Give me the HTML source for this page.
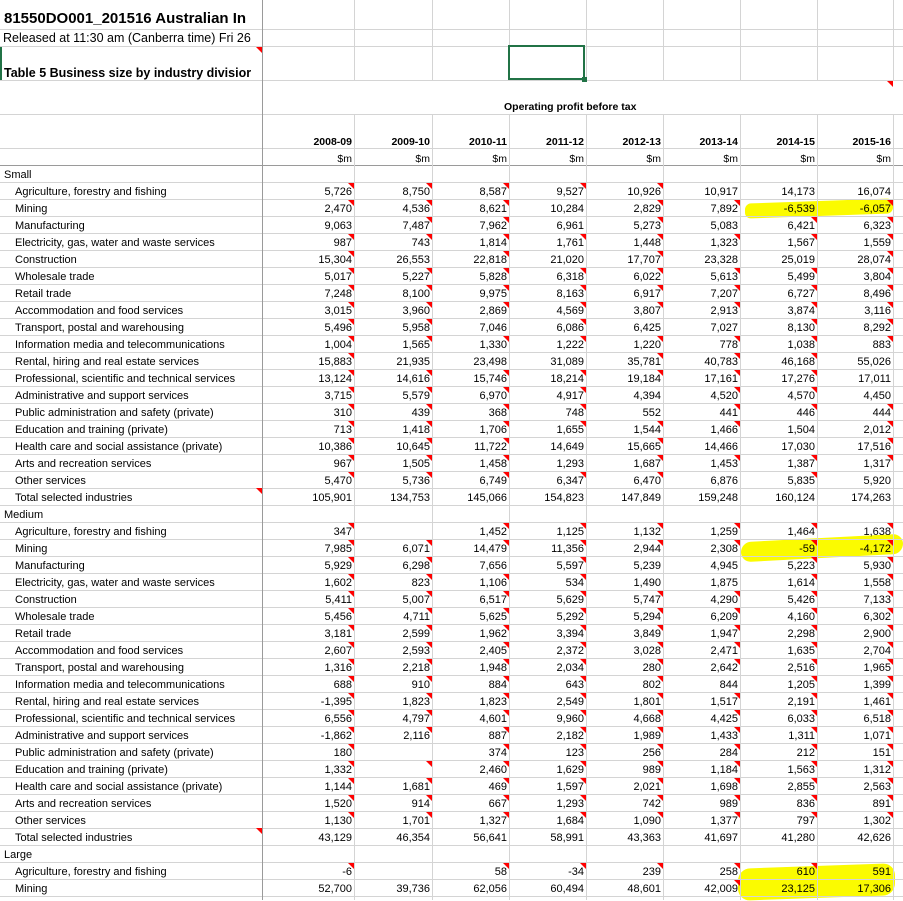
<!DOCTYPE html>
<html><head><meta charset="utf-8">
<style>
body{margin:0;width:903px;height:900px;overflow:hidden;background:#fff;font-family:"Liberation Sans",Arial,sans-serif;position:relative}
.v{position:absolute;width:1px;background:#d4d4d4}
.h{position:absolute;height:1px;background:#d4d4d4}
.t{position:absolute;font-size:11px;color:#000;white-space:nowrap;line-height:17px}
.r{text-align:right}
.tri{position:absolute;width:0;height:0;border-top:6px solid #f00;border-left:6px solid transparent}
.y{position:absolute;background:#fbfb00}
</style></head><body>
<div id="g"></div>
<script>
const g=document.getElementById('g');
function add(html){g.insertAdjacentHTML('beforeend',html);}
const colR=[354,432,509,586,663,740,817,893];
add('<div class="y" style="left:745px;top:201px;width:148px;height:15px;border-radius:6px;transform:skewY(-2deg)"></div>');
add('<div class="y" style="left:741px;top:538px;width:162px;height:20px;border-radius:10px;transform:skewY(-3deg)"></div>');
add('<div class="y" style="left:738px;top:866px;width:157px;height:32px;border-radius:12px;transform:skewY(-2deg)"></div>');
const hl=[29,46,80,114,148];
hl.forEach(y=>add(`<div class="h" style="left:0;top:${y}px;width:903px"></div>`));
for(let k=1;k<=43;k++){let y=165+17*k;add(`<div class="h" style="left:0;top:${y}px;width:903px"></div>`);}
add('<div class="h" style="left:0;top:165px;width:903px;background:#9a9a9a"></div>');
colR.forEach(x=>{add(`<div class="v" style="left:${x}px;top:0;height:80px"></div>`);add(`<div class="v" style="left:${x}px;top:114px;height:786px"></div>`);});
add('<div class="v" style="left:262px;top:0;height:900px;background:#9a9a9a"></div>');
add('<div class="t" style="left:4px;top:8px;font-size:15px;font-weight:bold;line-height:22px">81550DO001_201516 Australian In</div>');
add('<div class="t" style="left:3px;top:30px;font-size:12.5px;line-height:17px">Released at 11:30 am (Canberra time) Fri 26</div>');
add('<div class="t" style="left:4px;top:65px;font-size:12.5px;font-weight:bold;line-height:17px">Table 5 Business size by industry divisior</div>');
add('<div style="position:absolute;left:0;top:47px;width:2px;height:33px;background:#217346"></div>');
add('<div style="position:absolute;left:508px;top:45px;width:77px;height:35px;border:2px solid #217346;box-sizing:border-box;background:#fff"></div>');
add('<div style="position:absolute;left:582px;top:77px;width:5px;height:5px;background:#217346"></div>');
add('<div class="tri" style="left:256px;top:47px"></div>');
add('<div class="tri" style="left:887px;top:81px"></div>');
add('<div class="t" style="left:504px;top:99px;font-weight:bold;font-size:10.5px">Operating profit before tax</div>');
const yrs=['2008-09','2009-10','2010-11','2011-12','2012-13','2013-14','2014-15','2015-16'];
yrs.forEach((y,i)=>{add(`<div class="t r" style="left:${colR[i]-80}px;width:78px;top:134px;font-weight:bold;font-size:10.5px">${y}</div>`);add(`<div class="t r" style="left:${colR[i]-80}px;width:78px;top:151px;font-size:10.5px">$m</div>`);});
const names=['Agriculture, forestry and fishing','Mining','Manufacturing','Electricity, gas, water and waste services','Construction','Wholesale trade','Retail trade','Accommodation and food services','Transport, postal and warehousing','Information media and telecommunications','Rental, hiring and real estate services','Professional, scientific and technical services','Administrative and support services','Public administration and safety (private)','Education and training (private)','Health care and social assistance (private)','Arts and recreation services','Other services','Total selected industries'];
const small=`5,726* 8,750* 8,587* 9,527* 10,926* 10,917 14,173 16,074
2,470* 4,536* 8,621* 10,284 2,829* 7,892* -6,539 -6,057*
9,063 7,487* 7,962* 6,961 5,273* 5,083 6,421* 6,323*
987* 743* 1,814* 1,761* 1,448* 1,323* 1,567* 1,559*
15,304* 26,553 22,818* 21,020 17,707* 23,328 25,019 28,074*
5,017* 5,227* 5,828* 6,318* 6,022* 5,613* 5,499* 3,804*
7,248* 8,100* 9,975* 8,163* 6,917* 7,207* 6,727* 8,496*
3,015* 3,960* 2,869* 4,569* 3,807* 2,913* 3,874* 3,116*
5,496* 5,958* 7,046 6,086* 6,425 7,027 8,130* 8,292*
1,004* 1,565* 1,330* 1,222* 1,220* 778* 1,038* 883*
15,883* 21,935 23,498 31,089 35,781* 40,783* 46,168* 55,026
13,124* 14,616* 15,746* 18,214* 19,184* 17,161* 17,276* 17,011
3,715* 5,579* 6,970* 4,917* 4,394 4,520* 4,570* 4,450
310* 439* 368* 748* 552 441* 446* 444*
713* 1,418* 1,706* 1,655* 1,544* 1,466* 1,504 2,012*
10,386* 10,645* 11,722* 14,649 15,665* 14,466 17,030 17,516*
967* 1,505* 1,458* 1,293 1,687* 1,453* 1,387* 1,317*
5,470* 5,736* 6,749* 6,347* 6,470* 6,876 5,835* 5,920
105,901 134,753 145,066 154,823 147,849 159,248 160,124 174,263`;
const medium=`347* _ 1,452* 1,125* 1,132* 1,259* 1,464* 1,638*
7,985* 6,071* 14,479* 11,356* 2,944* 2,308* -59* -4,172*
5,929* 6,298* 7,656 5,597* 5,239 4,945 5,223* 5,930*
1,602* 823* 1,106* 534* 1,490 1,875 1,614* 1,558*
5,411* 5,007* 6,517* 5,629* 5,747* 4,290* 5,426* 7,133*
5,456* 4,711* 5,625* 5,292* 5,294* 6,209* 4,160* 6,302*
3,181* 2,599* 1,962* 3,394* 3,849* 1,947* 2,298* 2,900*
2,607* 2,593* 2,405* 2,372* 3,028* 2,471* 1,635* 2,704*
1,316* 2,218* 1,948* 2,034* 280* 2,642* 2,516* 1,965*
688* 910* 884* 643* 802* 844 1,205* 1,399*
-1,395* 1,823* 1,823* 2,549* 1,801* 1,517* 2,191* 1,461*
6,556* 4,797* 4,601* 9,960* 4,668* 4,425* 6,033* 6,518*
-1,862* 2,116* 887* 2,182* 1,989* 1,433* 1,311* 1,071*
180* _ 374* 123* 256* 284* 212* 151*
1,332* _* 2,460* 1,629* 989* 1,184* 1,563* 1,312*
1,144* 1,681* 469* 1,597* 2,021* 1,698* 2,855* 2,563*
1,520* 914* 667* 1,293* 742* 989* 836* 891*
1,130* 1,701* 1,327* 1,684* 1,090* 1,377* 797* 1,302*
43,129 46,354 56,641 58,991 43,363 41,697 41,280 42,626`;
const large=`-6* _ 58* -34* 239* 258* 610* 591
52,700 39,736 62,056 60,494 48,601 42,009* 23,125 17,306`;
function section(label,startRow,data,nm){
  add(`<div class="t" style="left:4px;top:${167+17*startRow}px">${label}</div>`);
  data.split('\n').forEach((line,i)=>{
    const row=startRow+1+i,top=165+17*row;
    add(`<div class="t" style="left:15px;top:${top+2}px">${nm[i]}</div>`);
    if(i==18) add(`<div class="tri" style="left:256px;top:${top}px"></div>`);
    line.trim().split(/\s+/).forEach((v,c)=>{
      const tri=v.endsWith('*');v=v.replace('*','');
      if(v!='_') add(`<div class="t r" style="left:${colR[c]-80}px;width:78px;top:${top+2}px">${v}</div>`);
      if(tri) add(`<div class="tri" style="left:${colR[c]-6}px;top:${top+1}px"></div>`);
    });
  });
}
section('Small',0,small,names);
section('Medium',20,medium,names);
section('Large',40,large,names);
</script>
</body></html>
